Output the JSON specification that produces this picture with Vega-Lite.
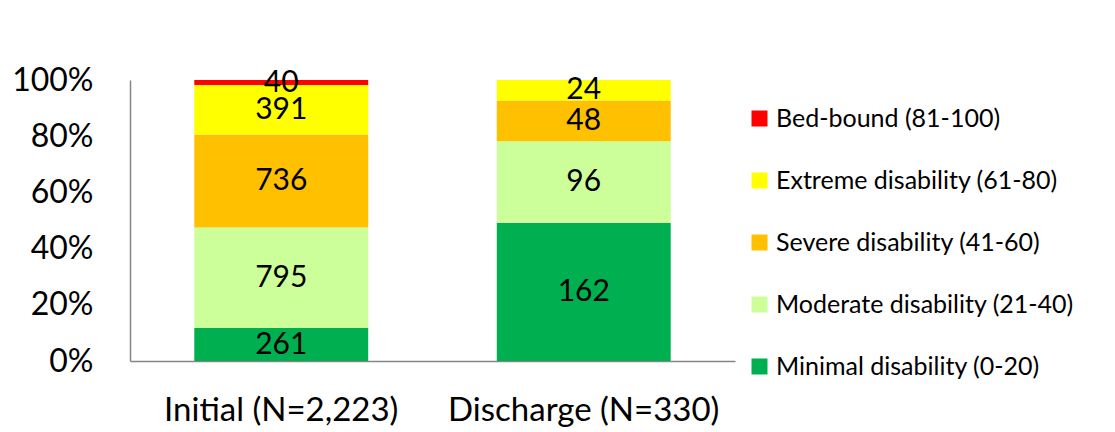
{
  "$schema": "https://vega.github.io/schema/vega-lite/v6.json",
  "width": 605,
  "height": 281,
  "autosize": "none",
  "padding": {"left": 130, "top": 80, "right": 380, "bottom": 71},
  "background": "white",
  "config": {"font": "Lato", "view": {"stroke": null}},
  "data": {"values": [
    {"stage": "Initial (N=2,223)", "category": "Minimal disability (0-20)", "level": 1, "count": 261},
    {"stage": "Initial (N=2,223)", "category": "Moderate disability (21-40)", "level": 2, "count": 795},
    {"stage": "Initial (N=2,223)", "category": "Severe disability (41-60)", "level": 3, "count": 736},
    {"stage": "Initial (N=2,223)", "category": "Extreme disability (61-80)", "level": 4, "count": 391},
    {"stage": "Initial (N=2,223)", "category": "Bed-bound (81-100)", "level": 5, "count": 40},
    {"stage": "Discharge (N=330)", "category": "Minimal disability (0-20)", "level": 1, "count": 162},
    {"stage": "Discharge (N=330)", "category": "Moderate disability (21-40)", "level": 2, "count": 96},
    {"stage": "Discharge (N=330)", "category": "Severe disability (41-60)", "level": 3, "count": 48},
    {"stage": "Discharge (N=330)", "category": "Extreme disability (61-80)", "level": 4, "count": 24}
  ]},
  "transform": [
    {"stack": "count", "groupby": ["stage"], "sort": [{"field": "level", "order": "ascending"}], "offset": "normalize", "as": ["y0", "y1"]},
    {"calculate": "(datum.y0 + datum.y1) / 2", "as": "ymid"}
  ],
  "encoding": {
    "x": {
      "field": "stage", "type": "nominal",
      "sort": ["Initial (N=2,223)", "Discharge (N=330)"],
      "scale": {"paddingInner": 0.425, "paddingOuter": 0.2125},
      "axis": {"title": null, "labelAngle": 0, "ticks": false, "domainColor": "#868686", "domainWidth": 1.5, "labelFontSize": 33, "labelColor": "black", "labelPadding": 33, "labelLimit": 0}
    }
  },
  "layer": [
    {
      "mark": {"type": "bar", "stroke": null},
      "encoding": {
        "y": {"field": "y0", "type": "quantitative", "scale": {"domain": [0, 1]},
          "axis": {"title": null, "values": [0, 0.2, 0.4, 0.6, 0.8, 1], "format": ".0%", "grid": false, "ticks": false, "domainColor": "#868686", "domainWidth": 1.5, "labelFontSize": 32, "labelColor": "black", "labelPadding": 37, "labelLimit": 0}},
        "y2": {"field": "y1"},
        "color": {
          "field": "category", "type": "nominal",
          "scale": {
            "domain": ["Bed-bound (81-100)", "Extreme disability (61-80)", "Severe disability (41-60)", "Moderate disability (21-40)", "Minimal disability (0-20)"],
            "range": ["#FF0000", "#FFFF00", "#FFC000", "#CCFF99", "#00B050"]
          },
          "legend": {"orient": "none", "legendX": 617, "legendY": 26, "title": null, "symbolType": "square", "symbolSize": 256, "symbolStrokeWidth": 0, "labelFontSize": 25, "labelColor": "black", "rowPadding": 36, "labelOffset": 4, "labelLimit": 0}
        }
      }
    },
    {
      "mark": {"type": "text", "fontSize": 30, "color": "black", "baseline": "middle"},
      "encoding": {
        "y": {"field": "ymid", "type": "quantitative"},
        "text": {"field": "count", "type": "quantitative"}
      }
    }
  ]
}
